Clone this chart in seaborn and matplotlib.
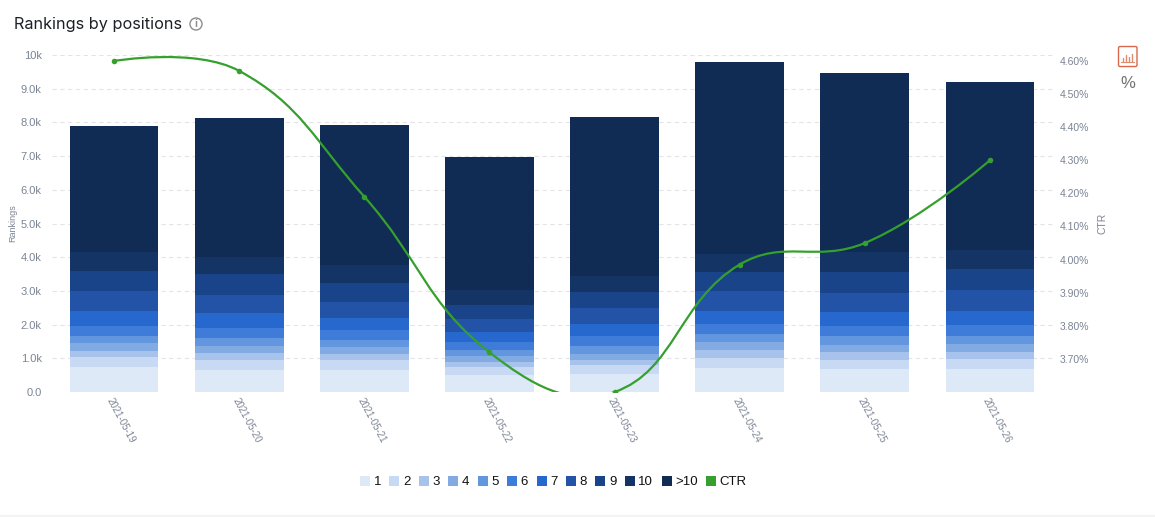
"""Rankings by positions: stacked position bars with a CTR line on a second axis."""

import matplotlib

matplotlib.use("Agg")
import matplotlib.pyplot as plt
import numpy as np
import pandas as pd
import seaborn as sns
from matplotlib.lines import Line2D
from matplotlib.patches import Circle, FancyBboxPatch, PathPatch, Rectangle
from matplotlib.path import Path

W, H = 1155, 517

DATES = ["2021-05-19", "2021-05-20", "2021-05-21", "2021-05-22",
         "2021-05-23", "2021-05-24", "2021-05-25", "2021-05-26"]
POSITIONS = ["1", "2", "3", "4", "5", "6", "7", "8", "9", "10", ">10"]

# rankings per position, one list per date
DAY_19 = [750, 290, 180, 240, 210, 295, 445, 595, 595, 565, 3735]
DAY_20 = [655, 295, 210, 210, 235, 295, 445, 535, 625, 505, 4125]
DAY_21 = [655, 295, 180, 210, 205, 295, 355, 475, 565, 535, 4160]
DAY_22 = [515, 230, 150, 175, 180, 235, 295, 385, 415, 445, 3945]
DAY_23 = [545, 265, 150, 170, 235, 295, 355, 475, 475, 475, 4730]
DAY_24 = [710, 300, 235, 240, 235, 295, 385, 595, 565, 535, 5705]
DAY_25 = [680, 270, 235, 210, 265, 295, 415, 565, 620, 595, 5315]
DAY_26 = [680, 295, 210, 235, 240, 325, 415, 625, 620, 565, 4990]
DAYS = [DAY_19, DAY_20, DAY_21, DAY_22, DAY_23, DAY_24, DAY_25, DAY_26]

CTR = [4.60, 4.57, 4.19, 3.72, 3.60, 3.985, 4.05, 4.30]
Y_TICKS = [0, 1000, 2000, 3000, 4000, 5000, 6000, 7000, 8000, 9000, 10000]
Y_LABELS = ["0.0", "1.0k", "2.0k", "3.0k", "4.0k", "5.0k", "6.0k", "7.0k",
            "8.0k", "9.0k", "10k"]
CTR_TICKS = [3.7, 3.8, 3.9, 4.0, 4.1, 4.2, 4.3, 4.4, 4.5, 4.6]

COLORS = ["#dde9f6", "#c8daf3", "#a7c3ec", "#83abe3", "#6297df", "#3f7bd8",
          "#2768cf", "#2253a6", "#1a448a", "#133464", "#102c54"]
GREEN = "#35a02d"
TICK_GRAY = "#7b8494"


def smooth_path(ax, xs, ys, smooth=0.42):
    # cubic segments with tangents worked out in screen space
    pts = ax.transData.transform(np.column_stack([xs, ys]))
    verts, codes = [pts[0]], [Path.MOVETO]
    n = len(pts)
    for i in range(n - 1):
        p, q = pts[i], pts[i + 1]
        if i == 0:
            c0 = p
        else:
            v = q - pts[i - 1]
            a, b = np.linalg.norm(p - pts[i - 1]), np.linalg.norm(q - p)
            c0 = p + v * smooth * b / (a + b)
        if i == n - 2:
            c1 = q
        else:
            v = pts[i + 2] - p
            a, b = np.linalg.norm(q - p), np.linalg.norm(pts[i + 2] - q)
            c1 = q - v * smooth * a / (a + b)
        verts += [c0, c1, q]
        codes += [Path.CURVE4] * 3
    return Path(ax.transData.inverted().transform(np.array(verts)), codes)


def main():
    sns.set_theme(style="white")
    plt.rcParams["font.family"] = ["Liberation Sans", "DejaVu Sans"]

    fig = plt.figure(figsize=(W / 100, H / 100), dpi=100)
    ax = fig.add_axes([51.5 / W, 1 - 392 / H, 1001 / W, 337 / H])

    df = pd.DataFrame(DAYS, index=DATES, columns=POSITIONS)
    bottoms = df.cumsum(axis=1).shift(1, axis=1).fillna(0)
    for pos, color in zip(POSITIONS, COLORS):
        sns.barplot(x=DATES, y=df[pos].to_numpy(), bottom=bottoms[pos].to_numpy(),
                    color=color, width=0.71, saturation=1, ax=ax, zorder=2,
                    errorbar=None, linewidth=0)

    ax.set_xlim(-0.5, len(DATES) - 0.5)
    ax.set_ylim(0, 10000)
    ax.set_yticks(Y_TICKS, Y_LABELS)
    ax.set_ylabel("Rankings", fontsize=6.5, color=TICK_GRAY)
    ax.yaxis.set_label_coords(-34.5 / 1001, 0.5)
    ax.set_xlabel("")
    ax.grid(axis="y", color="#e2e4e8", ls=(0, (4, 3)), lw=0.8, zorder=0)
    ax.set_axisbelow(True)
    ax.tick_params(axis="y", length=0, labelsize=8, labelcolor=TICK_GRAY, pad=7)
    ax.tick_params(axis="x", length=0, pad=3)
    plt.setp(ax.get_xticklabels(), rotation=-62, ha="left", rotation_mode="anchor",
             fontsize=7, color=TICK_GRAY)
    sns.despine(ax=ax, left=True, bottom=True)

    ax2 = ax.twinx()
    ax2.set_ylim(3.60, 4.618)
    ax2.set_yticks(CTR_TICKS, [f"{v:.2f}%" for v in CTR_TICKS])
    ax2.set_ylabel("CTR", fontsize=7.5, color=TICK_GRAY)
    ax2.yaxis.set_label_coords(1 + 44.5 / 1001, 0.5)
    ax2.tick_params(axis="y", length=0, labelsize=7.5, labelcolor=TICK_GRAY, pad=5)
    ax2.grid(False)
    sns.despine(ax=ax2, left=True, bottom=True, right=True)

    xs = np.arange(len(DATES))
    ax2.add_patch(PathPatch(smooth_path(ax2, xs, CTR), fc="none", ec=GREEN, lw=1.6, zorder=3))
    sns.scatterplot(x=xs, y=CTR, color=GREEN, s=16, linewidth=0, ax=ax2, zorder=4)
    ax2.set_xlim(-0.5, len(DATES) - 0.5)

    handles = [Line2D([], [], ls="", marker="s", ms=6.5, color=c, mew=0) for c in COLORS]
    handles.append(Line2D([], [], ls="", marker="s", ms=6.5, color=GREEN, mew=0))
    fig.legend(handles, POSITIONS + ["CTR"], ncol=12, frameon=False, fontsize=9.5,
               loc="center", bbox_to_anchor=(552 / W, 1 - 482 / H),
               handletextpad=0.05, columnspacing=0.42, labelcolor="#111111",
               handlelength=1.2, borderpad=0)

    # header and the small icons around the chart
    fig.text(14 / W, 1 - 24 / H, "Rankings by positions", fontsize=11.7, color="#1d2026",
             family="Inter", va="center")
    overlay = fig.add_axes([0, 0, 1, 1], facecolor="none")
    overlay.set_xlim(0, W)
    overlay.set_ylim(H, 0)
    overlay.axis("off")
    overlay.add_patch(Circle((196, 24), 6, fc="none", ec="#8c8c8c", lw=1))
    overlay.text(196, 24.3, "i", ha="center", va="center", fontsize=7.5, color="#8c8c8c",
                 fontweight="bold")
    overlay.add_patch(FancyBboxPatch((1118.5, 46.5), 18.5, 20, boxstyle="round,pad=0,rounding_size=1.5",
                                     fc="none", ec="#d9694a", lw=1))
    overlay.plot([1121, 1134], [61.5, 61.5], color="#e08a70", lw=0.8)
    for bx, bh in [(1123, 3), (1126, 6), (1129, 4), (1132, 7)]:
        overlay.plot([bx, bx], [60.5, 60.5 - bh], color="#e08a70", lw=1)
    overlay.text(1127.5, 83.5, "%", ha="center", va="center", fontsize=12, color="#707070")
    overlay.add_patch(Rectangle((0, 514.5), W, 3, fc="#f2f3f5", ec="none"))

    fig.savefig("out.png", dpi=100)


if __name__ == "__main__":
    main()
